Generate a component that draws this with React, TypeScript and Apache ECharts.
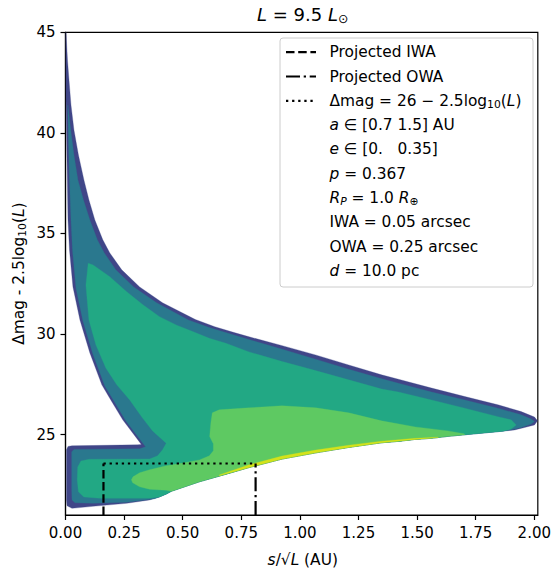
import React, { useEffect, useRef } from "react";
import * as echarts from "echarts";

const FONT = "DejaVu Sans";

// Axes
const xTickValues = [0, 0.25, 0.5, 0.75, 1.0, 1.25, 1.5, 1.75, 2.0];
const yTickValues = [25, 30, 35, 40, 45];
const xLimits = [0, 2.015];
const yLimits = [21.0, 45];

// Reference lines
const projectedIWA = 0.162;
const projectedOWA = 0.811;
const dmagLimit = 23.56;

// Contour boundaries [s/sqrt(L), dmag - 2.5log10(L)]
const outerTop = [
  [0.002, 45.0], [0.0085, 43.62], [0.0149, 42.63], [0.0234, 41.39], [0.0361, 40.14], [0.0552, 38.9],
  [0.0786, 37.66], [0.0998, 36.67], [0.1253, 35.67], [0.1592, 34.68], [0.189, 34.03], [0.2399, 33.19],
  [0.3163, 32.34], [0.414, 31.55], [0.5541, 30.72], [0.6369, 30.36], [0.7197, 30.07], [0.7834, 29.86],
  [0.9248, 29.42], [1.0667, 28.96], [1.2081, 28.46], [1.3482, 27.97], [1.4204, 27.75], [1.5618, 27.31],
  [1.7036, 26.89], [1.845, 26.48], [1.9439, 26.14], [2.0008, 25.87], [2.0136, 25.68], [2.0008, 25.48],
  [1.9584, 25.35], [1.9159, 25.23], [1.845, 25.14],
];
const lowerRight = [
  [1.7049, 24.99], [1.6327, 24.91], [1.5605, 24.81], [1.4926, 24.76], [1.4204, 24.66], [1.3482, 24.59],
  [1.2081, 24.36], [1.0679, 24.09], [0.9236, 23.78], [0.7834, 23.36], [0.6858, 23.03], [0.5711, 22.65],
  [0.4522, 22.18],
];
const lowerLeft = [[0.431, 22.05], [0.4013, 21.9]];
const outerBlock = [
  [0.3588, 21.75], [0.2611, 21.58], [0.1168, 21.43], [0.0276, 21.33], [0.0064, 21.46], [0.0042, 21.75],
  [0.0042, 24.24], [0.0106, 24.41], [0.0276, 24.44], [0.3079, 24.49], [0.3236, 24.51],
];
const outerArmLeft = [
  [0.2442, 25.73], [0.1932, 26.72], [0.155, 27.47], [0.104, 29.06], [0.0616, 30.7], [0.0318, 32.34],
  [0.017, 34.18], [0.0106, 35.67], [0.0064, 38.65], [0.0021, 41.64], [0.0013, 44.62],
];

const tealTop = [
  [0.0098, 41.39], [0.0221, 40.14], [0.0361, 38.9], [0.0531, 37.66], [0.0764, 36.67], [0.104, 35.67],
  [0.1359, 34.68], [0.1656, 34.03], [0.2144, 33.19], [0.2909, 32.34], [0.3885, 31.55], [0.5244, 30.7],
  [0.6100, 30.33], [0.69, 30.05], [0.7962, 29.68], [0.9248, 29.24], [1.0667, 28.75], [1.2081, 28.25],
  [1.3495, 27.77], [1.4204, 27.55], [1.5618, 27.11], [1.7036, 26.72], [1.845, 26.31], [1.9439, 25.98],
  [1.9864, 25.77], [2.0008, 25.65], [1.9864, 25.52], [1.9439, 25.35], [1.9159, 25.27], [1.8662, 25.17],
];
const tealBlock = [
  [0.38, 21.81], [0.2611, 21.63], [0.1168, 21.58], [0.0403, 21.61], [0.0276, 21.75], [0.0263, 22.25],
  [0.0263, 24.14], [0.0361, 24.26], [0.3163, 24.29], [0.3418, 24.39],
];
const tealArmLeft = [
  [0.2569, 25.68], [0.2059, 26.68], [0.1677, 27.42], [0.1168, 29.01], [0.0743, 30.65], [0.0446, 32.29],
  [0.0297, 34.18], [0.0234, 35.67], [0.017, 37.66], [0.0127, 39.65],
];

const midTop = [
  [0.0968, 33.52], [0.118, 33.43], [0.189, 32.85], [0.2599, 32.11], [0.3304, 31.45], [0.4013, 30.86],
  [0.4722, 30.45], [0.5427, 30.12], [0.6136, 29.79], [0.6845, 29.54], [0.7834, 29.11], [0.9248, 28.63],
  [1.0667, 28.18], [1.2081, 27.72], [1.3495, 27.26], [1.4204, 27.12], [1.5618, 26.72], [1.7036, 26.31],
  [1.845, 25.89], [1.9015, 25.73], [1.9227, 25.48], [1.9015, 25.27], [1.8662, 25.17],
];
const midBlock = [
  [0.3588, 21.83], [0.1465, 21.83], [0.078, 21.9], [0.055, 22.15], [0.05, 22.75], [0.052, 23.39],
  [0.066, 23.69], [0.1, 23.77], [0.3588, 23.79], [0.3928, 23.94], [0.414, 24.24], [0.4297, 24.57],
];
const midArmLeft = [
  [0.3715, 25.18], [0.3248, 25.88], [0.2739, 26.72], [0.2187, 27.47], [0.172, 28.31], [0.1295, 29.46],
  [0.0998, 30.7], [0.087, 32.44],
];

const lightTop = [
  [0.6263, 26.08], [0.656, 26.23], [0.7834, 26.33], [0.9236, 26.43], [1.0679, 26.33], [1.2081, 26.08],
  [1.3482, 25.68], [1.4926, 25.38], [1.6327, 25.18], [1.7006, 25.04],
];
const lightLobe = [
  [0.4297, 22.23], [0.3588, 22.28], [0.3163, 22.4], [0.2866, 22.6], [0.2811, 22.75], [0.2879, 22.9],
  [0.3163, 23.1], [0.3588, 23.25], [0.4297, 23.45], [0.5002, 23.58], [0.5711, 23.74], [0.6136, 23.94],
  [0.6306, 24.19], [0.6306, 24.54], [0.615, 24.9], [0.62, 25.58],
];

const yellowBottom = [
  [0.656, 22.95], [0.7834, 23.36], [0.9236, 23.78], [1.0679, 24.09], [1.2081, 24.36], [1.3482, 24.59],
  [1.4926, 24.76], [1.59, 24.85],
];
const yellowTop = [
  [1.59, 24.87], [1.4926, 24.81], [1.3482, 24.67], [1.2081, 24.47], [1.0679, 24.23], [0.9236, 23.93],
  [0.7834, 23.5], [0.656, 22.99],
];

const levelColors = ["#404688", "#2a788e", "#22a884", "#5ec962", "#d4e21a"];

const legendLabels = [
  "Projected IWA",
  "Projected OWA",
  "{n|Δmag = 26 − 2.5log}{sub|10}{n|(}{i|L}{n|)}",
  "{i|a}{n| ∈ [0.7 1.5] AU}",
  "{i|e}{n| ∈ [0.\u00a0\u00a0\u00a00.35]}",
  "{i|p}{n| = 0.367}",
  "{i|R}{isub|P}{n| = 1.0 }{i|R}{sub|⊕}",
  "IWA = 0.05 arcsec",
  "OWA = 0.25 arcsec",
  "{i|d}{n| = 10.0 pc}",
];

const DASHED = [8.5, 3.7];
const DASHDOT = [14, 3.7, 2.3, 3.7];
const DOTTED = [2.3, 3.8];

export default function App() {
  const ref = useRef<HTMLDivElement>(null);

  useEffect(() => {
    if (!ref.current) return;
    const chart = echarts.init(ref.current, null, { renderer: "svg" });

    const layers = [
      { color: levelColors[0], pts: [...outerTop, ...lowerRight, ...lowerLeft, ...outerBlock, ...outerArmLeft] },
      { color: levelColors[1], pts: [...tealTop, ...lowerRight, ...lowerLeft, ...tealBlock, ...tealArmLeft] },
      { color: levelColors[2], pts: [...midTop, ...lowerRight, ...lowerLeft, ...midBlock, ...midArmLeft] },
      { color: levelColors[3], pts: [...lightTop, ...lowerRight, ...lightLobe] },
      { color: levelColors[4], pts: [...yellowBottom, ...yellowTop] },
    ];

    const rich = (size: number) => ({
      n: { fontFamily: FONT, fontSize: size, lineHeight: size * 1.2, color: "#000" },
      i: { fontFamily: FONT, fontSize: size, lineHeight: size * 1.2, fontStyle: "italic", color: "#000" },
      sub: { fontFamily: FONT, fontSize: size * 0.7, lineHeight: size * 0.55, verticalAlign: "bottom", color: "#000" },
      isub: { fontFamily: FONT, fontSize: size * 0.7, lineHeight: size * 0.55, verticalAlign: "bottom", fontStyle: "italic", color: "#000" },
    });

    const legLeft = 280;
    const legTop = 38;
    const legWidth = 253;
    const rowStart = 52.2;
    const rowPitch = 24.3;
    const legHeight = 249;
    const handleX1 = 286;
    const handleX2 = 316;
    const textX = 329.5;
    const handleDash = [DASHED, DASHDOT, DOTTED];

    const graphics: any[] = [
      {
        type: "rect",
        shape: { x: legLeft, y: legTop, width: legWidth, height: legHeight, r: 3 },
        style: { fill: "rgba(255,255,255,0.8)", stroke: "#cccccc", lineWidth: 1 },
        z: 100,
      },
    ];
    legendLabels.forEach((lab, i) => {
      const y = rowStart + i * rowPitch;
      if (i < 3) {
        graphics.push({
          type: "line",
          shape: { x1: handleX1, y1: y, x2: handleX2, y2: y },
          style: { stroke: "#000", lineWidth: 2.2, lineDash: handleDash[i] },
          z: 101,
        });
      }
      graphics.push({
        type: "text",
        x: textX,
        y,
        style: {
          text: lab.startsWith("{") ? lab : `{n|${lab}}`,
          rich: rich(15.4),
          align: "left",
          verticalAlign: "middle",
        },
        z: 101,
      });
    });
    graphics.push({
      type: "text",
      x: 302.75,
      y: 14.5,
      style: {
        text: "{i|L}{n| = 9.5 }{i|L}{sub|⊙}",
        rich: rich(18),
        align: "center",
        verticalAlign: "middle",
      },
    });
    graphics.push({
      type: "text",
      x: 302.75,
      y: 559.5,
      style: {
        text: "{i|s}{n|/√}{i|L}{n| (AU)}",
        rich: rich(15.4),
        align: "center",
        verticalAlign: "middle",
      },
    });
    graphics.push({
      type: "text",
      x: 19,
      y: 273.6,
      rotation: Math.PI / 2,
      style: {
        text: "{n|Δmag - 2.5log}{sub|10}{n|(}{i|L}{n|)}",
        rich: rich(15.4),
        align: "center",
        verticalAlign: "middle",
      },
    });

    const option: any = {
      animation: false,
      grid: {
        left: 65.5,
        top: 32.3,
        width: 474.5,
        height: 482.7,
        show: true,
        borderColor: "#000",
        borderWidth: 1.2,
        backgroundColor: "transparent",
      },
      xAxis: {
        type: "value",
        min: xLimits[0],
        max: xLimits[1],
        axisLine: { show: true, onZero: false, lineStyle: { color: "#000", width: 1.2 } },
        axisTick: { show: true, length: 5, lineStyle: { color: "#000", width: 1.2 }, customValues: xTickValues },
        axisLabel: {
          customValues: xTickValues,
          formatter: (v: number) => v.toFixed(2),
          fontFamily: FONT,
          fontSize: 15,
          color: "#000",
          margin: 10,
        },
        splitLine: { show: false },
      },
      yAxis: {
        type: "value",
        min: yLimits[0],
        max: yLimits[1],
        axisLine: { show: true, onZero: false, lineStyle: { color: "#000", width: 1.2 } },
        axisTick: { show: true, length: 5, lineStyle: { color: "#000", width: 1.2 }, customValues: yTickValues },
        axisLabel: {
          customValues: yTickValues,
          formatter: (v: number) => String(v),
          fontFamily: FONT,
          fontSize: 15,
          color: "#000",
          margin: 10,
        },
        splitLine: { show: false },
      },
      series: [
        {
          type: "custom",
          coordinateSystem: "cartesian2d",
          silent: true,
          clip: true,
          z: 1,
          data: layers.map((l, i) => [l.pts[0][0], l.pts[0][1], i]),
          renderItem: (params: any, api: any) => {
            const layer = layers[api.value(2)];
            return {
              type: "polygon",
              shape: { points: layer.pts.map((p) => api.coord(p)) },
              style: { fill: layer.color, stroke: layer.color, lineWidth: 0.3 },
            };
          },
        },
        {
          type: "line",
          z: 5,
          symbol: "none",
          silent: true,
          data: [[projectedIWA, yLimits[0]], [projectedIWA, dmagLimit]],
          lineStyle: { color: "#000", width: 2.2, type: DASHED },
        },
        {
          type: "line",
          z: 5,
          symbol: "none",
          silent: true,
          data: [[projectedOWA, yLimits[0]], [projectedOWA, dmagLimit]],
          lineStyle: { color: "#000", width: 2.2, type: DASHDOT },
        },
        {
          type: "line",
          z: 5,
          symbol: "none",
          silent: true,
          data: [[projectedIWA, dmagLimit], [projectedOWA, dmagLimit]],
          lineStyle: { color: "#000", width: 2.2, type: DOTTED },
        },
      ],
      graphic: graphics,
    };

    chart.setOption(option);
    return () => chart.dispose();
  }, []);

  return (
    <div
      ref={ref}
      style={{ position: "fixed", left: 0, top: 0, width: 554, height: 568, background: "#fff" }}
    />
  );
}
